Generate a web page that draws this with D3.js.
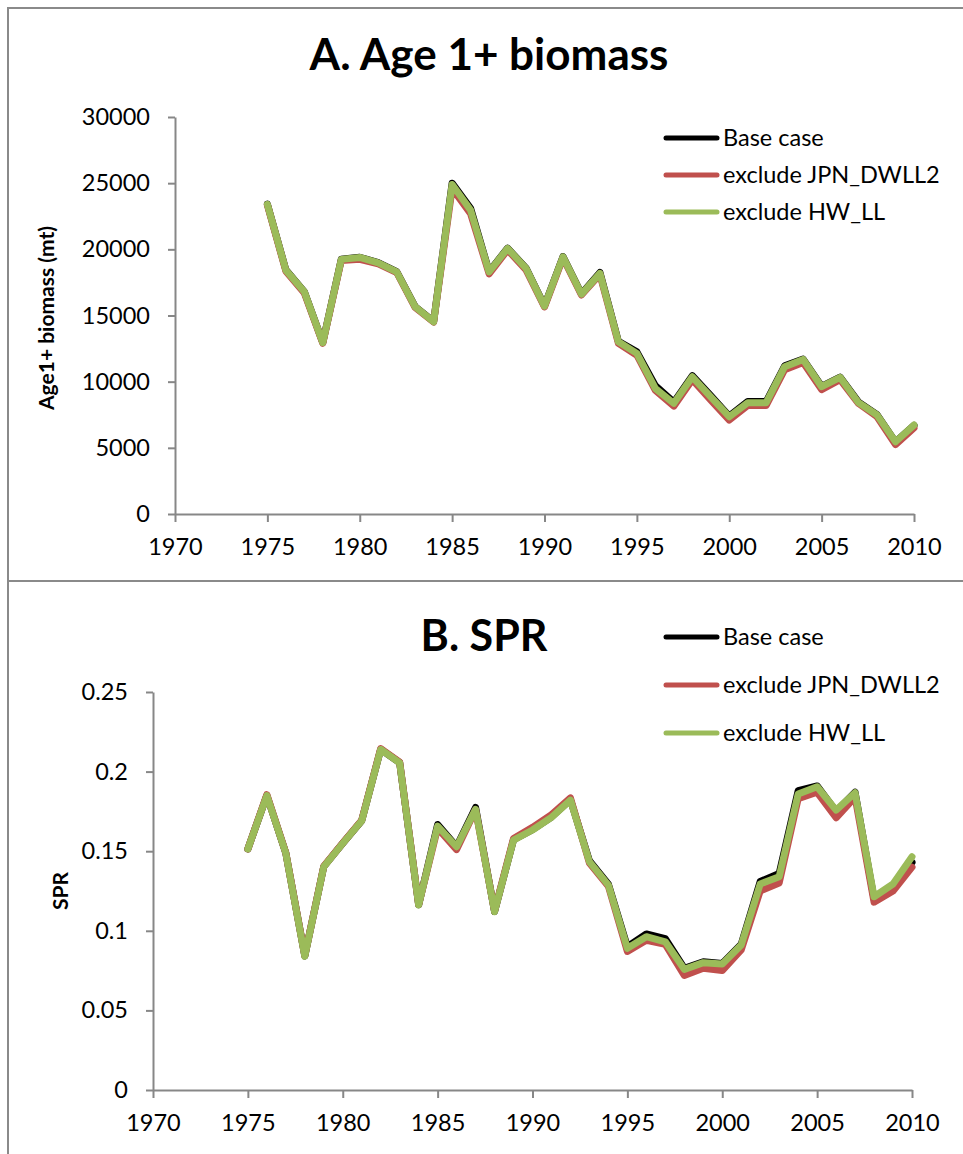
<!DOCTYPE html>
<html>
<head>
<meta charset="utf-8">
<script src="https://cdn.jsdelivr.net/npm/d3@7"></script>
<style>
  html, body { margin: 0; padding: 0; background: #fff; }
  svg { display: block; }
  text { font-family: Lato, "Open Sans", sans-serif; fill: #000; }
</style>
</head>
<body>
<svg id="chart" width="963" height="1154"></svg>
<script>
// Model run years
const years = d3.range(1975, 2011);

// Age 1+ biomass (mt) by run
const biomassBase = [23420, 18450, 16800, 12960, 19250, 19400, 18990, 18310, 15670, 14540,
  25000, 23100, 18320, 20090, 18580, 15730, 19450, 16640, 18250, 13050,
  12250, 9700, 8450, 10450, 8950, 7400, 8500, 8500, 11200, 11700,
  9650, 10350, 8450, 7500, 5450, 6700];
const biomassNoJPN = [23350, 18350, 16700, 12900, 19150, 19250, 18900, 18250, 15600, 14500,
  24600, 22700, 18150, 19950, 18450, 15650, 19350, 16550, 18100, 12900,
  12000, 9350, 8150, 10150, 8600, 7100, 8200, 8200, 10900, 11450,
  9400, 10150, 8350, 7350, 5250, 6500];
const biomassNoHW = [23400, 18430, 16790, 12940, 19240, 19390, 18980, 18300, 15660, 14530,
  24900, 22960, 18300, 20070, 18560, 15710, 19430, 16620, 18180, 13010,
  12140, 9490, 8360, 10370, 8860, 7350, 8410, 8410, 11130, 11680,
  9620, 10320, 8410, 7480, 5460, 6720];

// Spawning potential ratio by run
const sprBase = [0.1514, 0.1850, 0.1488, 0.0842, 0.1403, 0.1550, 0.1692, 0.2140, 0.2056, 0.1163,
  0.1668, 0.1530, 0.1775, 0.1121, 0.1572, 0.1635, 0.1715, 0.1823, 0.1440, 0.1292,
  0.0900, 0.0980, 0.0950, 0.0765, 0.0805, 0.0795, 0.0915, 0.1310, 0.1360, 0.1880,
  0.1910, 0.1750, 0.1870, 0.1200, 0.1280, 0.1430];
const sprNoJPN = [0.1514, 0.1855, 0.1490, 0.0845, 0.1405, 0.1552, 0.1695, 0.2145, 0.2060, 0.1165,
  0.1645, 0.1510, 0.1760, 0.1125, 0.1580, 0.1650, 0.1730, 0.1835, 0.1425, 0.1280,
  0.0870, 0.0940, 0.0915, 0.0720, 0.0765, 0.0750, 0.0880, 0.1250, 0.1300, 0.1830,
  0.1870, 0.1710, 0.1840, 0.1180, 0.1250, 0.1400];
const sprNoHW = [0.1514, 0.1849, 0.1487, 0.0840, 0.1402, 0.1549, 0.1691, 0.2139, 0.2055, 0.1162,
  0.1658, 0.1528, 0.1763, 0.1120, 0.1570, 0.1633, 0.1713, 0.1821, 0.1434, 0.1287,
  0.0890, 0.0963, 0.0931, 0.0758, 0.0800, 0.0791, 0.0911, 0.1294, 0.1340, 0.1859,
  0.1905, 0.1758, 0.1867, 0.1214, 0.1294, 0.1465];

const seriesNames = ["Base case", "exclude JPN_DWLL2", "exclude HW_LL"];
const seriesColors = ["#000000", "#C0504D", "#9BBB59"];

const xTicks = d3.range(1970, 2011, 5);
const biomassTicks = d3.range(0, 30001, 5000);
const sprTicks = [0, 0.05, 0.1, 0.15, 0.2, 0.25];

const svg = d3.select("#chart");
const axisGrey = "#878787";

// Panel frames
svg.append("rect").attr("x", 8).attr("y", 8).attr("width", 970).attr("height", 573)
  .attr("fill", "none").attr("stroke", "#8a8a8a").attr("stroke-width", 2);
svg.append("rect").attr("x", 8).attr("y", 581).attr("width", 970).attr("height", 600)
  .attr("fill", "none").attr("stroke", "#8a8a8a").attr("stroke-width", 2);

function drawPanel(cfg) {
  const g = svg.append("g");
  const x = d3.scaleLinear().domain([1970, 2010]).range(cfg.xRange);
  const y = d3.scaleLinear().domain(cfg.yDomain).range(cfg.yRange);

  const xAxis = g.append("g").attr("transform", `translate(0,${cfg.yRange[0]})`)
    .call(d3.axisBottom(x).tickValues(xTicks).tickFormat(d3.format("d"))
      .tickSize(8).tickPadding(16).tickSizeOuter(0));
  const yAxis = g.append("g").attr("transform", `translate(${cfg.xRange[0]},0)`)
    .call(d3.axisLeft(y).tickValues(cfg.yTicks).tickFormat(cfg.yFormat)
      .tickSize(7).tickPadding(18).tickSizeOuter(0));
  [xAxis, yAxis].forEach(a => {
    a.select(".domain").attr("stroke", axisGrey).attr("stroke-width", 2);
    a.selectAll(".tick line").attr("stroke", axisGrey).attr("stroke-width", 2);
    a.selectAll(".tick text").attr("font-size", 23.5).attr("fill", "#000")
      .style("font-family", "Lato, 'Open Sans', sans-serif");
  });

  const line = d3.line().x((d, i) => x(years[i])).y(d => y(d));
  cfg.series.forEach((vals, k) => {
    g.append("path").datum(vals).attr("d", line).attr("fill", "none")
      .attr("stroke", seriesColors[k]).attr("stroke-width", 7)
      .attr("stroke-linejoin", "round").attr("stroke-linecap", "round");
  });

  // Title
  g.append("text").attr("x", cfg.title.x).attr("y", cfg.title.y)
    .attr("text-anchor", "middle").attr("font-size", cfg.title.size)
    .attr("font-weight", "bold").text(cfg.title.text);

  // Vertical axis title
  g.append("text").attr("transform", `translate(${cfg.yTitle.x},${cfg.yTitle.y}) rotate(-90)`)
    .attr("text-anchor", "middle").attr("font-size", 21).attr("font-weight", "bold")
    .text(cfg.yTitle.text);

  // Legend
  seriesNames.forEach((name, k) => {
    const ly = cfg.legend.y[k];
    g.append("line").attr("x1", 666).attr("x2", 717).attr("y1", ly).attr("y2", ly)
      .attr("stroke", seriesColors[k]).attr("stroke-width", 5).attr("stroke-linecap", "round");
    g.append("text").attr("x", 723).attr("y", ly).attr("dy", "0.35em")
      .attr("font-size", 23.5).text(name);
  });
}

drawPanel({
  xRange: [175, 914],
  yRange: [514, 117],
  yDomain: [0, 30000],
  yTicks: biomassTicks,
  yFormat: d3.format("d"),
  series: [biomassBase, biomassNoJPN, biomassNoHW],
  title: { text: "A. Age 1+ biomass", x: 489, y: 70, size: 44 },
  yTitle: { text: "Age1+ biomass (mt)", x: 54, y: 318 },
  legend: { y: [138, 175, 212] }
});

drawPanel({
  xRange: [153, 912],
  yRange: [1090, 692],
  yDomain: [0, 0.25],
  yTicks: sprTicks,
  yFormat: d => d === 0 ? "0" : String(d),
  series: [sprBase, sprNoJPN, sprNoHW],
  title: { text: "B. SPR", x: 484, y: 651, size: 43 },
  yTitle: { text: "SPR", x: 68, y: 891 },
  legend: { y: [637, 685, 733] }
});
</script>
</body>
</html>
